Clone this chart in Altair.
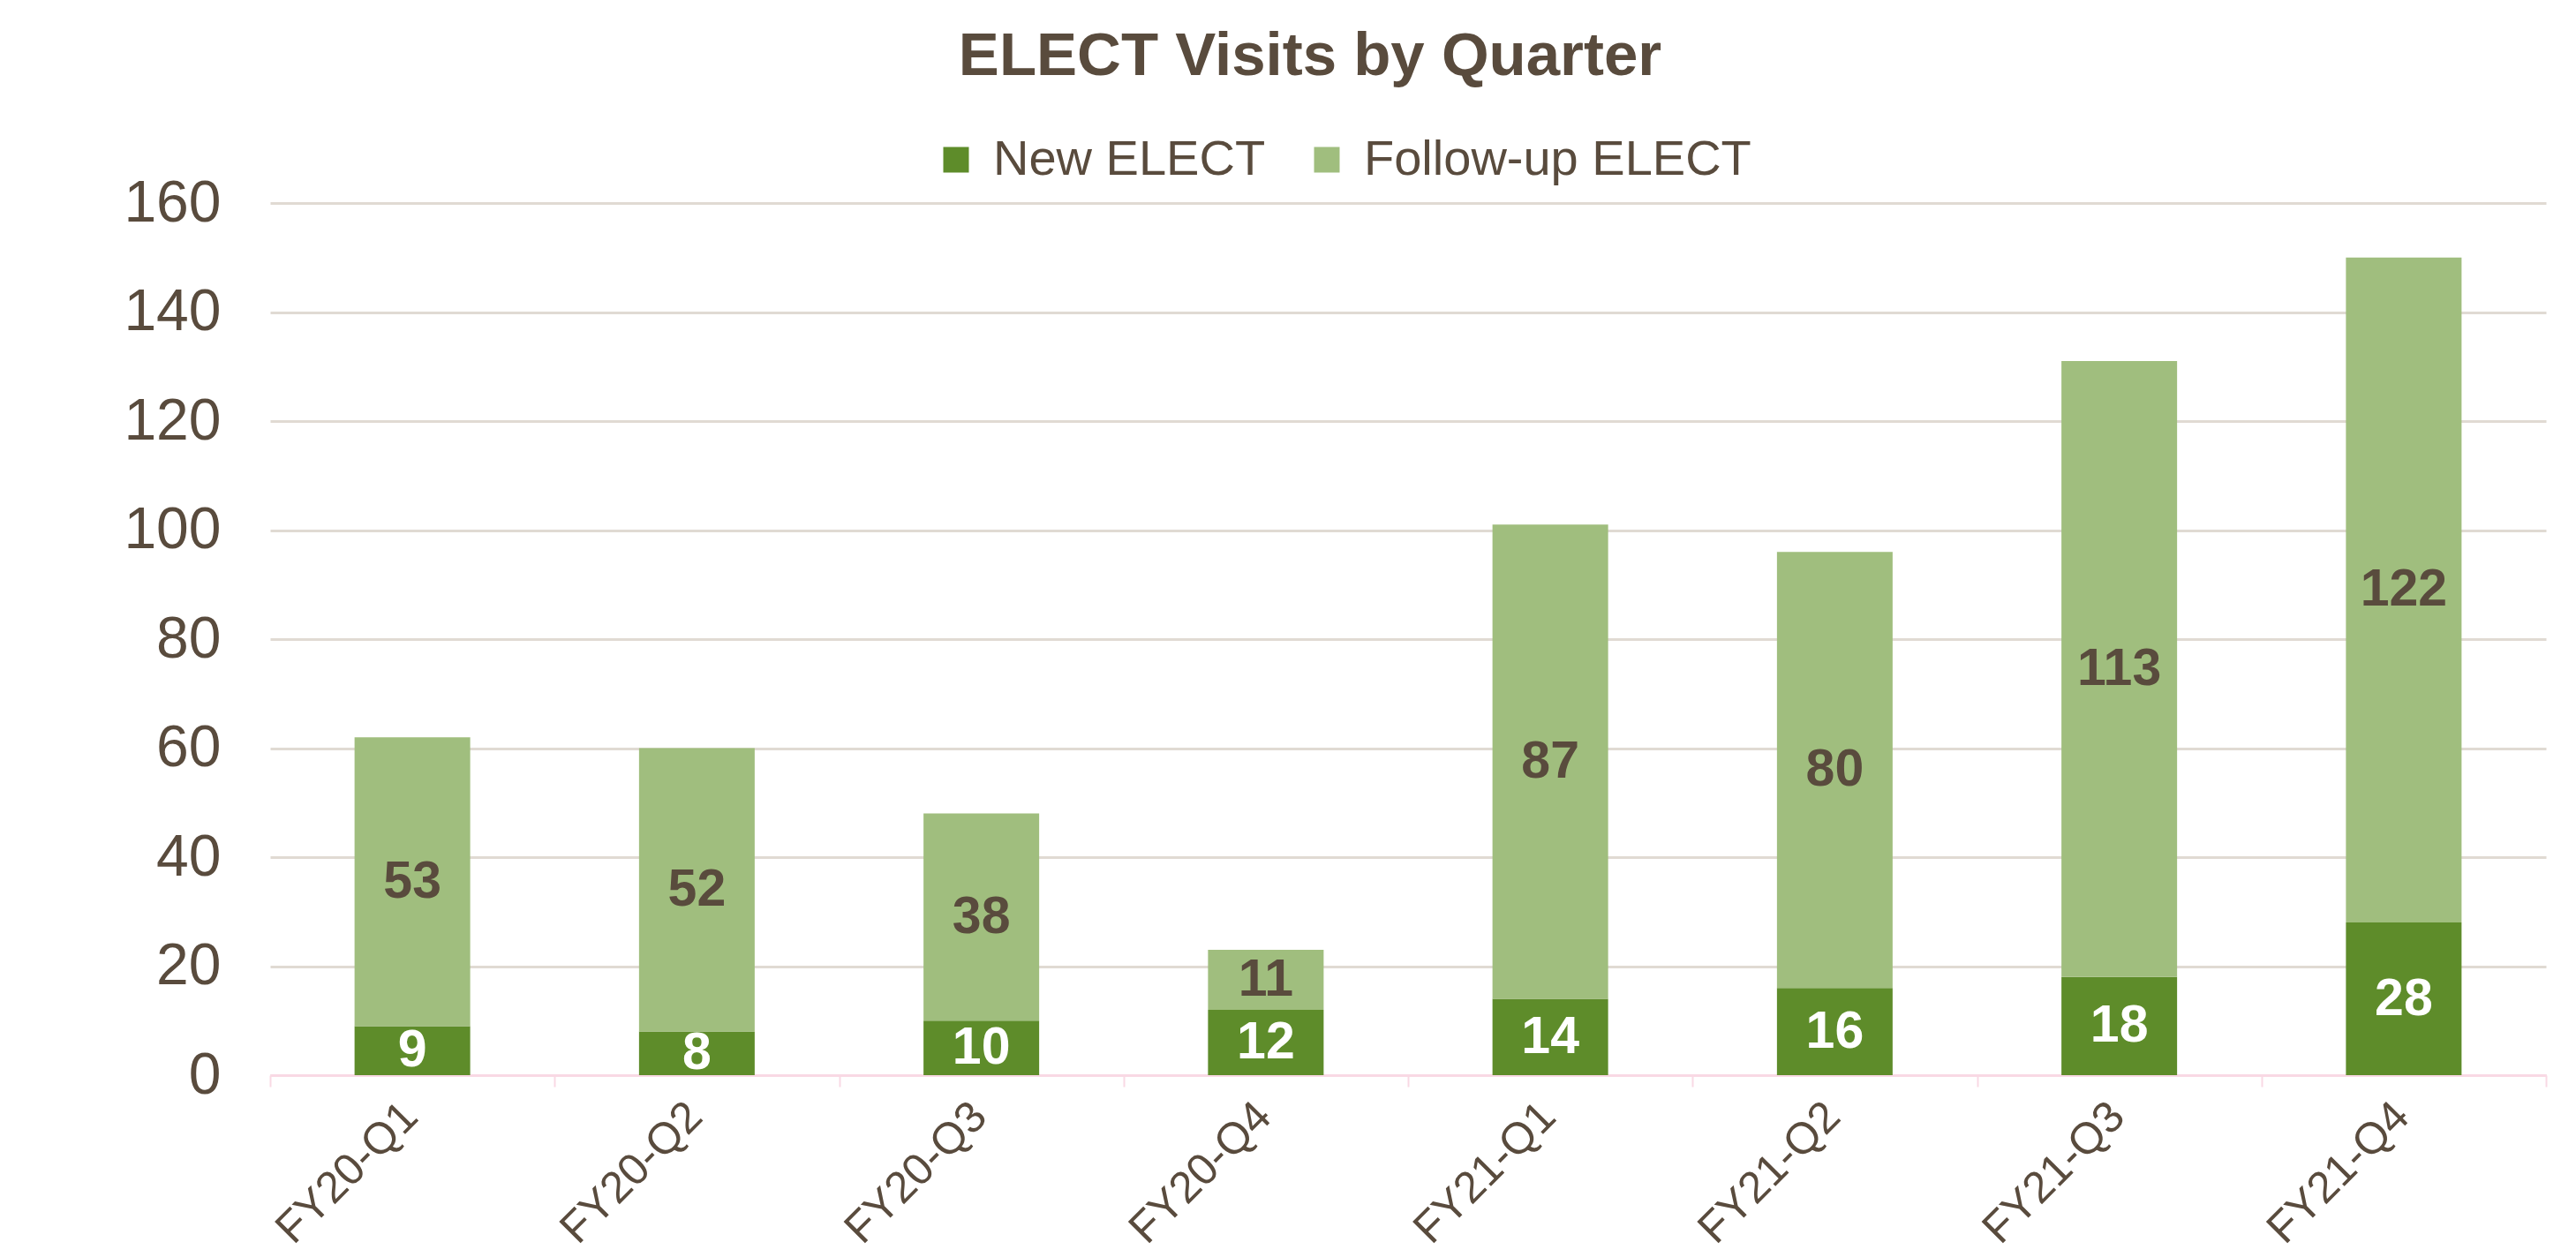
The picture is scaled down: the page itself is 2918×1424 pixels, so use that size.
import altair as alt
import pandas as pd

quarters = ["FY20-Q1", "FY20-Q2", "FY20-Q3", "FY20-Q4", "FY21-Q1", "FY21-Q2", "FY21-Q3", "FY21-Q4"]
new_elect = [9, 8, 10, 12, 14, 16, 18, 28]
followup_elect = [53, 52, 38, 11, 87, 80, 113, 122]
series_names = ["New ELECT", "Follow-up ELECT"]
series_colors = ["#5E8C2A", "#A0BE7E"]
y_ticks = [0, 20, 40, 60, 80, 100, 120, 140, 160]

rows = []
for q, n, f in zip(quarters, new_elect, followup_elect):
    rows.append({"quarter": q, "series": series_names[0], "ord": 0, "value": n})
    rows.append({"quarter": q, "series": series_names[1], "ord": 1, "value": f})
df = pd.DataFrame(rows)

TEXT = "#594B3D"
FONT = "Liberation Sans"

x_enc = alt.X("quarter:N", sort=quarters, title=None,
              scale=alt.Scale(paddingInner=0, paddingOuter=0),
              axis=alt.Axis(labelAngle=-45, labelFont=FONT, labelFontSize=50,
                            labelColor=TEXT, labelPadding=8, labelOffset=-20,
                            labelLimit=0, labelOverlap=False,
                            domainColor="#F9D9E4", domainWidth=3,
                            tickColor="#F9D9E4", tickWidth=2, tickSize=13,
                            tickBand="extent", grid=False))

bars = alt.Chart(df).mark_bar(size=131).encode(
    x=x_enc,
    y=alt.Y("value:Q", stack="zero", title=None,
            scale=alt.Scale(domain=[0, 160], nice=False),
            axis=alt.Axis(values=y_ticks, labelFont=FONT, labelFontSize=66,
                          labelColor=TEXT, labelPadding=56, ticks=False,
                          domain=False, gridColor="#E0DAD3", gridWidth=3)),
    color=alt.Color("series:N", sort=series_names,
                    scale=alt.Scale(domain=series_names, range=series_colors),
                    legend=alt.Legend(title=None, orient="none", direction="horizontal",
                                      legendX=749, legendY=-77,
                                      symbolType="square", symbolSize=841,
                                      symbolStrokeWidth=0,
                                      labelFont=FONT, labelFontSize=56,
                                      labelColor=TEXT, labelOffset=14,
                                      columnPadding=41, labelLimit=800)),
    order=alt.Order("ord:Q", sort="ascending"),
)

labels = alt.Chart(df).transform_stack(
    stack="value", groupby=["quarter"], as_=["y0", "y1"],
    sort=[alt.SortField("ord", order="ascending")]
).transform_calculate(
    mid="(datum.y0 + datum.y1) / 2"
).mark_text(font=FONT, fontSize=59, fontWeight="bold", baseline="middle").encode(
    x=alt.X("quarter:N", sort=quarters),
    y=alt.Y("mid:Q"),
    text=alt.Text("value:Q"),
    color=alt.condition(alt.datum.series == "New ELECT", alt.value("white"), alt.value(TEXT)),
)

chart = alt.layer(bars, labels).properties(
    width=2578, height=988,
    title=alt.TitleParams("ELECT Visits by Quarter", font=FONT, fontSize=69,
                          fontWeight="bold", color=TEXT, anchor="middle",
                          dx=-111, offset=54),
    autosize=alt.AutoSizeParams(type="none"),
    padding={"left": 298, "top": 222, "right": 16, "bottom": 196},
    background="white",
).configure_view(stroke=None)

chart.save("out.html", embed_options={"renderer": "svg", "actions": False})
